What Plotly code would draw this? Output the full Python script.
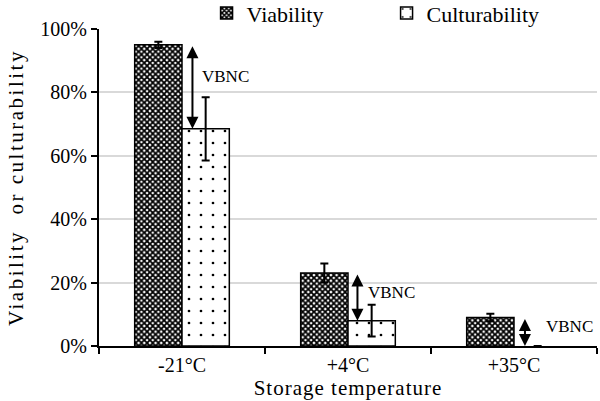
import plotly.graph_objects as go

categories = ["-21°C", "+4°C", "+35°C"]
viability = [95, 23, 9]
viability_err = [1, 3, 1.2]
culturability = [68.5, 8, 0]
culturability_err = [10, 5, None]
y_ticks = [0, 20, 40, 60, 80, 100]
y_tick_labels = ["0%", "20%", "40%", "60%", "80%", "100%"]

FONT = "'Liberation Serif', 'Times New Roman', serif"

fig = go.Figure()
fig.add_trace(go.Bar(
    name="Viability", x=categories, y=viability,
    error_y=dict(type="data", array=viability_err, color="black", thickness=2, width=4),
    marker=dict(color="white", line=dict(color="black", width=1.5),
                pattern=dict(shape="x", size=4, solidity=0.7, fgcolor="black", bgcolor="white",
                             fillmode="replace")),
))
fig.add_trace(go.Bar(
    name="Culturability", x=categories, y=culturability,
    error_y=dict(type="data", array=culturability_err, color="black", thickness=2, width=4),
    marker=dict(color="white", line=dict(color="black", width=[1.5, 1.5, 0]),
                pattern=dict(shape=".", size=12, solidity=0.04, fgcolor="black", bgcolor="white",
                             fillmode="replace")),
))

# VBNC double arrows between viability and culturability
arrow_offsets = [0.063, 0.057, 0.066]
label_offsets = [0.26, 0.26, 0.337]
label_y_frac = [0.62, 0.6, 0.7]
annotations = []
for i, cat in enumerate(categories):
    xi = i + arrow_offsets[i]
    annotations.append(dict(
        x=xi, y=culturability[i], ax=xi, ay=viability[i],
        xref="x", yref="y", axref="x", ayref="y",
        showarrow=True, arrowhead=2, arrowsize=1.2, arrowwidth=2,
        arrowside="end+start", arrowcolor="black", text="",
    ))
    ly = culturability[i] + (viability[i] - culturability[i]) * label_y_frac[i]
    annotations.append(dict(
        x=i + label_offsets[i], y=ly, xref="x", yref="y",
        text="VBNC", showarrow=False, font=dict(family=FONT, size=17, color="black"),
    ))

fig.update_layout(
    width=600, height=401,
    margin=dict(l=99, r=3, t=29, b=55, autoexpand=False),
    plot_bgcolor="white", paper_bgcolor="white",
    barmode="group", bargap=0.43, bargroupgap=0,
    font=dict(family=FONT, size=20, color="black"),
    legend=dict(orientation="h", x=0.216, xanchor="left", y=1.05, yanchor="middle",
                font=dict(family=FONT, size=22), entrywidth=135, traceorder="normal"),
    annotations=annotations,
    showlegend=True,
)
fig.update_xaxes(
    type="category", range=[-0.5, 2.5],
    showline=True, linecolor="black", linewidth=2,
    ticks="outside", tickson="boundaries", ticklen=6, tickcolor="black", tickwidth=1.5,
    title=dict(text='<span style="letter-spacing:1px">Storage temperature</span>',
               font=dict(family=FONT, size=21), standoff=0),
    tickfont=dict(family=FONT, size=20),
)
fig.update_yaxes(
    range=[0, 100], tickvals=y_ticks, ticktext=y_tick_labels,
    showline=True, linecolor="black", linewidth=2,
    ticks="outside", ticklen=6, tickcolor="black", tickwidth=1.5,
    showgrid=True, gridcolor="#d9d9d9", gridwidth=1.5, zeroline=False,
    title=dict(text='<span style="letter-spacing:2.5px">Viability  or culturability</span>',
               font=dict(family=FONT, size=21), standoff=11),
    tickfont=dict(family=FONT, size=20),
)

fig.write_html("out.html", config={"displayModeBar": False},
               post_script="document.body.style.margin='0';")
